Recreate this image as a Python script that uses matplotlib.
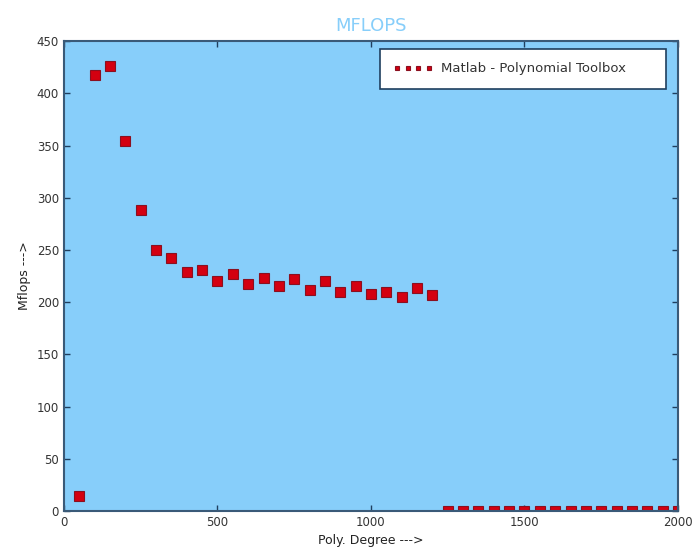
import numpy as np
import matplotlib
matplotlib.use("Agg")
import matplotlib.pyplot as plt

# poly degree vs Mflops
degree = list(range(50, 2001, 50))
mflops = [14, 418, 426, 354, 288, 250, 242, 229, 231, 220,
          227, 217, 223, 216, 222, 212, 220, 210, 216, 208,
          210, 205, 214, 207,
          0, 0, 0, 0, 0, 0, 0, 0, 0, 0, 0, 0, 0, 0, 0, 0]

x_ticks = [0, 500, 1000, 1500, 2000]
y_ticks = [0, 50, 100, 150, 200, 250, 300, 350, 400, 450]

fig = plt.figure(figsize=(6.95, 5.57), dpi=100)
ax = fig.add_axes([0.092, 0.0826, 0.8835, 0.8434])
ax.set_facecolor('#87cefa')

ax.plot(degree, mflops, linestyle='none', marker='s', markersize=7,
        markerfacecolor='#d40010', markeredgecolor='#8a1020', markeredgewidth=0.8,
        label='Matlab - Polynomial Toolbox', zorder=3)

ax.set_xlim(0, 2000)
ax.set_ylim(0, 450)
ax.set_xticks(x_ticks)
ax.set_yticks(y_ticks)
ax.tick_params(direction='in', top=True, right=True, length=4, width=1,
               color='#1f3f5f', labelsize=8.5, labelcolor='#333333')
for s in ax.spines.values():
    s.set_color('#3a5a78')
    s.set_linewidth(1.5)
    s.set_zorder(4)

ax.set_title('MFLOPS', color='#87cefa', fontsize=13, pad=7)
ax.set_xlabel('Poly. Degree --->', fontsize=9, color='#222222')
ax.set_ylabel('Mflops --->', fontsize=9, color='#222222')

# legend box stretched like the original
leg = ax.legend(loc='upper left', bbox_to_anchor=(0.515, 0.0, 0.465, 0.983),
                mode='expand', numpoints=4, markerscale=0.5, fontsize=9.5,
                fancybox=False, framealpha=1, edgecolor='#1f3f5f',
                borderpad=1.0, handlelength=3.0, handletextpad=0.6,
                borderaxespad=0.0)
leg.get_frame().set_linewidth(1.2)
for t in leg.get_texts():
    t.set_color('#333333')

fig.savefig('out.png', dpi=100)
